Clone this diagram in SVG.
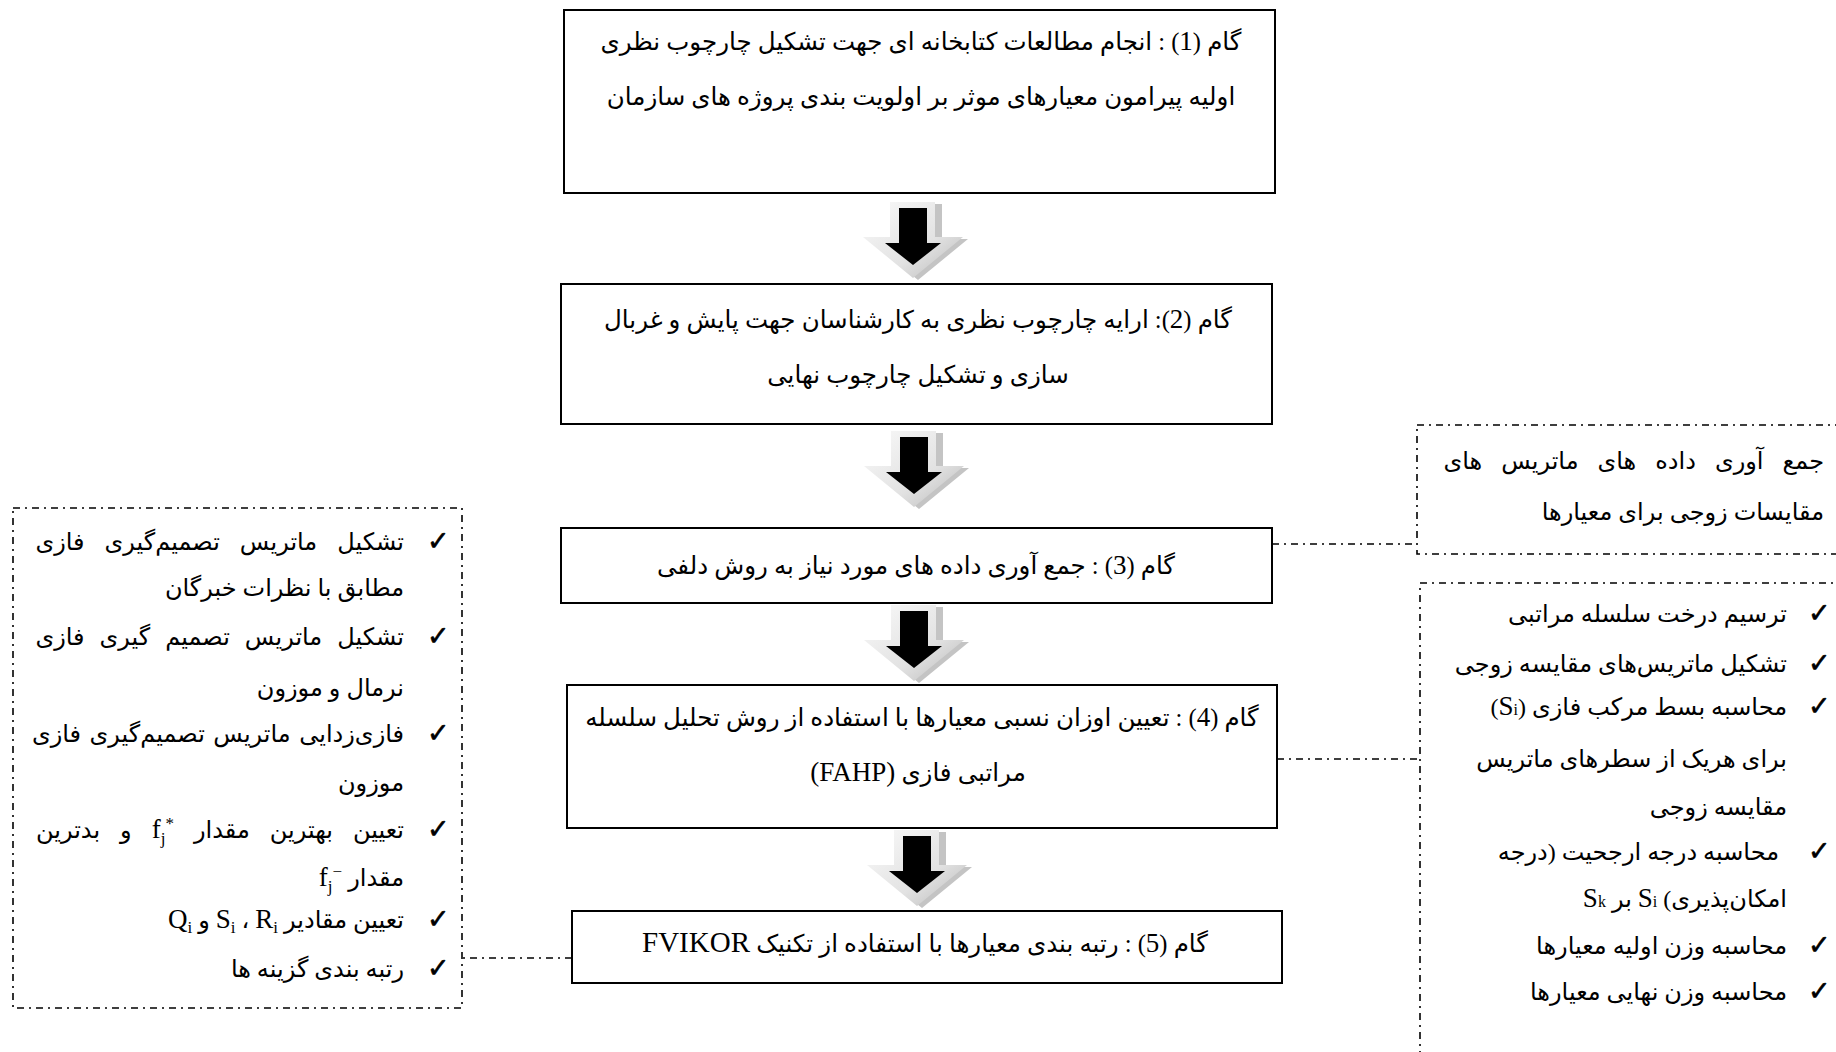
<svg xmlns="http://www.w3.org/2000/svg" width="1836" height="1052" viewBox="0 0 1836 1052">
<style>
.box{fill:#fff;stroke:#000;stroke-width:2}
.dbox{fill:none;stroke:#000;stroke-width:1.6;stroke-dasharray:7 5 2 5}
.conn{fill:none;stroke:#000;stroke-width:1.6;stroke-dasharray:7 5 2 5}
.t{font-family:'Liberation Serif','DejaVu Sans',serif;font-size:24.5px;fill:#000;direction:rtl}
.s{font-size:24px}
.m{text-anchor:middle}
.r{text-anchor:start}
.ck{font-family:'DejaVu Sans',sans-serif;font-size:27px;fill:#000;stroke:#000;stroke-width:0.6}
.mth{font-family:'Liberation Serif',serif}
.lat{font-size:27px}
</style>
<defs>
<linearGradient id="ag" x1="0" y1="0" x2="1" y2="1">
<stop offset="0" stop-color="#fafafa"/>
<stop offset="0.6" stop-color="#e2e2e2"/>
<stop offset="1" stop-color="#b8b8b8"/>
</linearGradient>
<g id="blk">
<path d="M5 2 L29 2 L29 37 L55 37 L5 78 L-46 37 L-19 37 Z" fill="#c4c4c4"/>
<path d="M-23 0 L22 0 L22 35 L50 35 L0 76 L-50 35 L-23 35 Z" fill="url(#ag)"/>
<path d="M-14 6 L14 6 L14 41 L28 41 L0 63 L-28 41 L-14 41 Z" fill="#000"/>
</g>
</defs>

<g id="connectors">
<line class="conn" x1="1272" y1="544" x2="1417" y2="544"/>
<line class="conn" x1="1277" y1="759" x2="1420" y2="759"/>
<line class="conn" x1="572" y1="958" x2="461" y2="958"/>
</g>

<g id="arrows">
<use href="#blk" transform="translate(913,202)"/>
<use href="#blk" transform="translate(914,431)"/>
<use href="#blk" transform="translate(914,605)"/>
<use href="#blk" transform="translate(917,830)"/>
</g>

<g id="step1">
<rect class="box" x="564" y="10" width="711" height="183"/>
<text class="t m" x="921" y="50">گام (<tspan class="lat">1</tspan>) : انجام مطالعات کتابخانه ای جهت تشکیل چارچوب نظری</text>
<text class="t m" x="921" y="105">اولیه پیرامون معیارهای موثر بر اولویت بندی پروژه های سازمان</text>
</g>

<g id="step2">
<rect class="box" x="561" y="284" width="711" height="140"/>
<text class="t m" x="918" y="328">گام (<tspan class="lat">2</tspan>): ارایه چارچوب نظری به کارشناسان جهت پایش و غربال</text>
<text class="t m" x="918" y="383">سازی و تشکیل چارچوب نهایی</text>
</g>

<g id="step3">
<rect class="box" x="561" y="528" width="711" height="75"/>
<text class="t m" x="916" y="574">گام (<tspan class="lat">3</tspan>) : جمع آوری داده های مورد نیاز به روش دلفی</text>
</g>

<g id="step4">
<rect class="box" x="567" y="685" width="710" height="143"/>
<text class="t m" x="922" y="726">گام (<tspan class="lat">4</tspan>) : تعیین اوزان نسبی معیارها با استفاده از روش تحلیل سلسله</text>
<text class="t m" x="918" y="781">مراتبی فازی <tspan class="lat">(FAHP)</tspan></text>
</g>

<g id="step5">
<rect class="box" x="572" y="911" width="710" height="72"/>
<text class="t m" x="925" y="952">گام (<tspan class="lat">5</tspan>) : رتبه بندی معیارها با استفاده از تکنیک <tspan font-size="29">FVIKOR</tspan></text>
</g>

<g id="note-delphi">
<rect class="dbox" x="1417" y="425" width="450" height="129"/>
<text class="t s r" x="1824" y="469" word-spacing="13">جمع آوری داده های ماتریس های</text>
<text class="t s r" x="1824" y="520">مقایسات زوجی برای معیارها</text>
</g>

<g id="note-fahp">
<rect class="dbox" x="1420" y="583" width="450" height="500"/>
<text class="ck" x="1808" y="622">✓</text>
<text class="t s r" x="1787" y="622">ترسیم درخت سلسله مراتبی</text>
<text class="ck" x="1808" y="672">✓</text>
<text class="t s r" x="1787" y="672">تشکیل ماتریس‌های مقایسه زوجی</text>
<text class="ck" x="1808" y="715">✓</text>
<text class="t s r" x="1787" y="715">محاسبه بسط مرکب فازی (<tspan class="lat">S</tspan><tspan font-size="16">i</tspan>)</text>
<text class="t s r" x="1787" y="767">برای هریک از سطرهای ماتریس</text>
<text class="t s r" x="1787" y="815">مقایسه زوجی</text>
<text class="ck" x="1808" y="860">✓</text>
<text class="t s r" x="1779" y="860">محاسبه درجه ارجحیت (درجه</text>
<text class="t s r" x="1787" y="907">امکان‌پذیری) <tspan class="lat">S</tspan><tspan font-size="16">i</tspan> بر <tspan class="lat">S</tspan><tspan font-size="16">k</tspan></text>
<text class="ck" x="1808" y="954">✓</text>
<text class="t s r" x="1787" y="954">محاسبه وزن اولیه معیارها</text>
<text class="ck" x="1808" y="1000">✓</text>
<text class="t s r" x="1787" y="1000">محاسبه وزن نهایی معیارها</text>
</g>

<g id="note-fvikor">
<rect class="dbox" x="13" y="508" width="449" height="500"/>
<text class="ck" x="427" y="550">✓</text>
<text class="t s r" x="404" y="550" word-spacing="14">تشکیل ماتریس تصمیم‌گیری فازی</text>
<text class="t s r" x="404" y="596">مطابق با نظرات خبرگان</text>
<text class="ck" x="427" y="645">✓</text>
<text class="t s r" x="404" y="645" word-spacing="9">تشکیل ماتریس تصمیم گیری فازی</text>
<text class="t s r" x="404" y="696">نرمال و موزون</text>
<text class="ck" x="427" y="742">✓</text>
<text class="t s r" x="404" y="742" word-spacing="2.5">فازی‌زدایی ماتریس تصمیم‌گیری فازی</text>
<text class="t s r" x="404" y="791">موزون</text>
<text class="ck" x="427" y="838">✓</text>
<text class="t s r" x="404" y="838" word-spacing="14">تعیین بهترین مقدار <tspan class="mth" font-size="27">f</tspan><tspan class="mth" font-size="17" dy="6">j</tspan><tspan class="mth" font-size="17" dy="-15">*</tspan><tspan dy="9">&#x200E; و بدترین</tspan></text>
<text class="t s r" x="404" y="886">مقدار <tspan class="mth" font-size="27">f</tspan><tspan class="mth" font-size="17" dy="6">j</tspan><tspan class="mth" font-size="17" dy="-15">−&#x200E;</tspan></text>
<text class="ck" x="427" y="928">✓</text>
<text class="t s r" x="404" y="928">تعیین مقادیر <tspan class="mth" font-size="27">S</tspan><tspan class="mth" font-size="17" dy="5">i</tspan><tspan dy="-5"> ، </tspan><tspan class="mth" font-size="27">R</tspan><tspan class="mth" font-size="17" dy="5">i</tspan><tspan dy="-5"> و </tspan><tspan class="mth" font-size="27">Q</tspan><tspan class="mth" font-size="17" dy="5">i</tspan></text>
<text class="ck" x="427" y="977">✓</text>
<text class="t s r" x="404" y="977">رتبه بندی گزینه ها</text>
</g>
</svg>
